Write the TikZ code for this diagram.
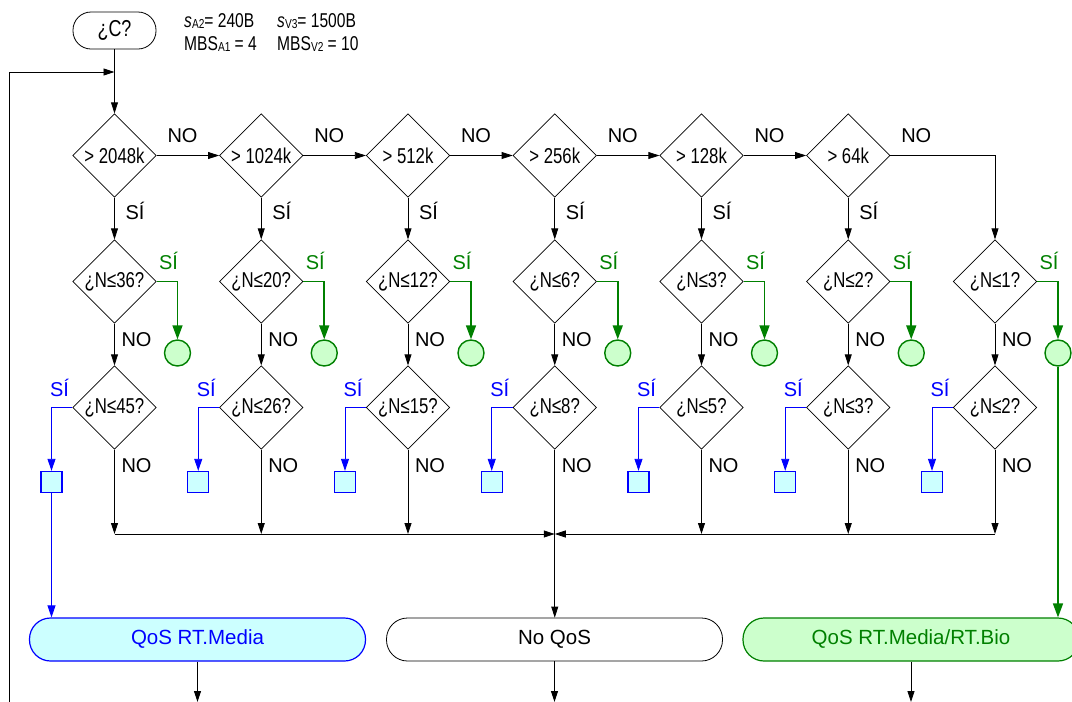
\documentclass[tikz,border=0pt]{standalone}
\usepackage{fontspec}
\setmainfont{Liberation Sans}
\newfontfamily\nfont{Liberation Sans}[FakeStretch=0.78]
\usetikzlibrary{shapes.geometric,arrows.meta,calc}
\definecolor{fgreen}{RGB}{0,128,0}
\definecolor{lgreen}{RGB}{204,255,204}
\definecolor{lcyan}{RGB}{204,255,255}
\definecolor{fblue}{RGB}{0,0,255}
\newcommand\zw[1]{\makebox[0pt][c]{#1}}
\tikzset{
  dia/.style={diamond, draw, line width=0.8pt, minimum width=83.5pt, minimum height=83.5pt, inner sep=0pt, font=\nfont\fontsize{21.5}{24}\selectfont},
  gcirc/.style={circle, draw=fgreen, fill=lgreen, line width=1.4pt, minimum size=26pt, inner sep=0pt},
  bsq/.style={rectangle, draw=fblue, fill=lcyan, line width=1.4pt, minimum size=21pt, inner sep=0pt},
  arr/.style={line width=0.8pt, -{Triangle[length=11pt,width=7pt]}},
  garr/.style={draw=fgreen, line width=1.6pt, -{Triangle[length=14pt,width=10pt]}},
  barr/.style={draw=fblue, line width=0.9pt, -{Triangle[length=12pt,width=8pt]}},
  lbl/.style={font=\fontsize{20}{24}\selectfont, inner sep=0pt},
  glbl/.style={lbl, text=fgreen},
  blbl/.style={lbl, text=fblue},
  endbox/.style={rectangle, rounded corners=21pt, minimum width=336pt, minimum height=43pt, inner sep=0pt, font=\fontsize{20.5}{24}\selectfont},
  topt/.style={anchor=base west, inner sep=0pt, font=\nfont\fontsize{20}{22}\selectfont},
}
\newcommand\sub[1]{\raisebox{-1.2pt}{\fontsize{13}{13}\selectfont #1}}
\begin{document}
\begin{tikzpicture}[x=1pt,y=-1pt]
\useasboundingbox (0,0) rectangle (1072,702);
% start
\node[draw, line width=0.8pt, rounded corners=18pt, minimum width=83pt, minimum height=37pt, inner sep=0pt, font=\nfont\fontsize{23}{24}\selectfont] (start) at (114.5,30.5) {¿C?};
\node[topt] (t1) at (184,27) {{\itshape s}\sub{A2}= 240B};
\node[topt] (t2) at (277,27) {{\itshape s}\sub{V3}= 1500B};
\node[topt] (t3) at (184,50) {MBS\sub{A1} = 4};
\node[topt] (t4) at (277,50) {MBS\sub{V2} = 10};
% columns
\foreach \i/\a/\b/\c in {1/2048k/36/45,2/1024k/20/26,3/512k/12/15,4/256k/6/8,5/128k/3/5,6/64k/2/3,7/x/1/2}{
  \pgfmathsetmacro\X{114.5+(\i-1)*146.75}
  \ifnum\i<7
    \node[dia] (a\i) at (\X,155.5) {\zw{> \a}};
  \fi
  \node[dia] (b\i) at (\X,281.5) {\zw{¿N≤\b?}};
  \node[dia] (c\i) at (\X,407.5) {\zw{¿N≤\c?}};
  \node[gcirc] (g\i) at (\X+63,353) {};
  \node[bsq] (s\i) at (\X-63,482) {};
  \coordinate (m\i) at (\X,534);
  \draw[arr] (b\i.south) -- (c\i.north);
  \draw[garr] (b\i.east) -| (g\i.north);
  \draw[barr] (c\i.west) -| (s\i.north);
  \node[glbl] (gl\i) at (\X+54,260.5) {SÍ};
  \node[blbl] (bl\i) at (\X-55,387.5) {SÍ};
  \node[lbl] (nb\i) at (\X+22,340) {NO};
  \node[lbl] (nc\i) at (\X+22,466) {NO};
}
\foreach \i in {1,...,6}{
  \pgfmathsetmacro\X{114.5+(\i-1)*146.75}
  \draw[arr] (a\i.south) -- (b\i.north);
  \node[lbl] (sa\i) at (\X+20.5,211) {SÍ};
  \node[lbl] (na\i) at (\X+68,136) {NO};
}
\foreach \i/\j in {1/2,2/3,3/4,4/5,5/6}{
  \draw[arr] (a\i.east) -- (a\j.west);
}
\draw[arr] (a6.east) -| (b7.north);
\foreach \i in {1,2,3,5,6,7}{
  \draw[arr] (c\i.south) -- (m\i);
}
\draw[arr] (m1) -- (m4);
\draw[arr] (m7) -- (m4);
% end boxes
\node[endbox, draw=fblue, line width=1.2pt, fill=lcyan, text=fblue] (box1) at (197.5,639.5) {QoS RT.Media};
\node[endbox, draw, line width=0.8pt, fill=white] (box2) at (554.5,639.5) {No QoS};
\node[endbox, draw=fgreen, line width=1.2pt, fill=lgreen, text=fgreen] (box3) at (911,639.5) {QoS RT.Media/RT.Bio};
\draw[arr] (c4.south) -- (c4.south |- box2.north);
\draw[barr] (s1.south) -- (s1.south |- box1.north);
\draw[garr] (g7.south) -- (g7.south |- box3.north);
\coordinate (o1) at (197.5,702);
\coordinate (o2) at (554.5,702);
\coordinate (o3) at (911,702);
\draw[arr] (box1.south) -- (o1);
\draw[arr] (box2.south) -- (o2);
\draw[arr] (box3.south) -- (o3);
% loop back
\coordinate (lb) at (9,710);
\coordinate (lt) at (9,72);
\coordinate (lj) at (114.5,72);
\draw[arr] (lb) -- (lt) -- (lj);
\draw[arr] (start.south) -- (a1.north);
\end{tikzpicture}
\end{document}
